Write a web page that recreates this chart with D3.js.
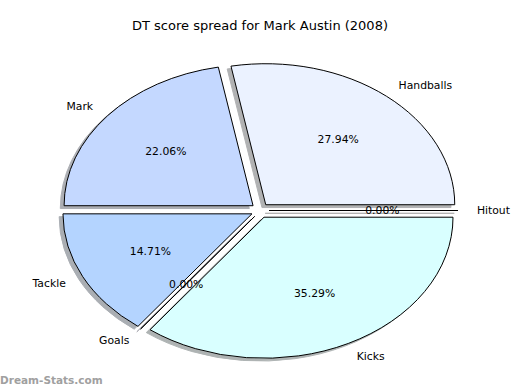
<!DOCTYPE html>
<html>
<head>
<meta charset="utf-8">
<script src="https://cdn.jsdelivr.net/npm/d3@7"></script>
<style>
body { margin: 0; background: #fff; }
text { font-family: "DejaVu Sans", sans-serif; }
</style>
</head>
<body>
<script>
var width = 520;
var height = 390;

// DT points per stat, in the order matplotlib lays them out (counter clockwise from 3 o'clock)
var labels = ["Handballs", "Mark", "Tackle", "Goals", "Kicks", "Hitout"];
var scores = [38, 30, 20, 0, 48, 0];
var colors = ["#ebf2ff", "#c4d8ff", "#b4d4ff", "#c8c8ff", "#d9ffff", "#e8e8e8"];

var cx = 260, cy = 210.5;
var rx = 189, ry = 141;
var explodeX = 9, explodeY = 7.5;

var svg = d3.select("body")
    .append("svg")
    .attr("width", width)
    .attr("height", height);

var total = d3.sum(scores);
var fmt = d3.format(".2f");

// negative range -> slices go counter clockwise like matplotlib
var pie = d3.pie().sort(null)
    .startAngle(Math.PI / 2)
    .endAngle(Math.PI / 2 - 2 * Math.PI);

var arc = d3.arc().innerRadius(0).outerRadius(1);

var slices = pie(scores).map(function(d, i) {
    var mid = Math.PI / 2 - (d.startAngle + d.endAngle) / 2;  // matplotlib style angle
    return {
        arc: d,
        label: labels[i],
        color: colors[i],
        pct: fmt(scores[i] / total * 100) + "%",
        cos: Math.cos(mid),
        sin: Math.sin(mid),
        ox: cx + explodeX * Math.cos(mid),
        oy: cy - explodeY * Math.sin(mid)
    };
});

function shadowColor(c) {
    var col = d3.rgb(c);
    return d3.rgb(col.r * 0.3, col.g * 0.3, col.b * 0.3).toString();
}

// shadows first
svg.append("g").selectAll("path")
    .data(slices)
    .enter().append("path")
    .attr("d", function(d) { return arc(d.arc); })
    .attr("transform", function(d) {
        return "translate(" + (d.ox - 0.02 * rx) + "," + (d.oy + 0.02 * ry) + ") scale(" + rx + "," + ry + ")";
    })
    .attr("vector-effect", "non-scaling-stroke")
    .attr("fill", function(d) { return shadowColor(d.color); })
    .attr("stroke", function(d) { return shadowColor(d.color); })
    .attr("stroke-width", 1)
    .attr("opacity", 0.42);

// wedges
svg.append("g").selectAll("path")
    .data(slices)
    .enter().append("path")
    .attr("d", function(d) { return arc(d.arc); })
    .attr("transform", function(d) {
        return "translate(" + d.ox + "," + d.oy + ") scale(" + rx + "," + ry + ")";
    })
    .attr("vector-effect", "non-scaling-stroke")
    .attr("fill", function(d) { return d.color; })
    .attr("stroke", "#000")
    .attr("stroke-width", 1);

// outside labels (distance 1.1)
svg.append("g").selectAll("text")
    .data(slices)
    .enter().append("text")
    .attr("x", function(d) { return d.ox + 1.1 * rx * d.cos; })
    .attr("y", function(d) { return d.oy - 1.1 * ry * d.sin; })
    .attr("dy", "0.35em")
    .attr("text-anchor", function(d) { return d.cos > 0 ? "start" : "end"; })
    .style("font-size", "10.8px")
    .attr("fill", "#000")
    .text(function(d) { return d.label; });

// percentages (distance 0.6)
svg.append("g").selectAll("text")
    .data(slices)
    .enter().append("text")
    .attr("x", function(d) { return d.ox + 0.6 * rx * d.cos; })
    .attr("y", function(d) { return d.oy - 0.6 * ry * d.sin; })
    .attr("dy", "0.35em")
    .attr("text-anchor", "middle")
    .style("font-size", "10.8px")
    .attr("fill", "#000")
    .text(function(d) { return d.pct; });

svg.append("text")
    .attr("x", width / 2)
    .attr("y", 30)
    .attr("text-anchor", "middle")
    .style("font-size", "13px")
    .text("DT score spread for Mark Austin (2008)");

// watermark
svg.append("text")
    .attr("x", 0)
    .attr("y", 384)
    .style("font-size", "10.5px")
    .style("font-weight", "bold")
    .attr("fill", "#a0a0a0")
    .text("Dream-Stats.com");
</script>
</body>
</html>
